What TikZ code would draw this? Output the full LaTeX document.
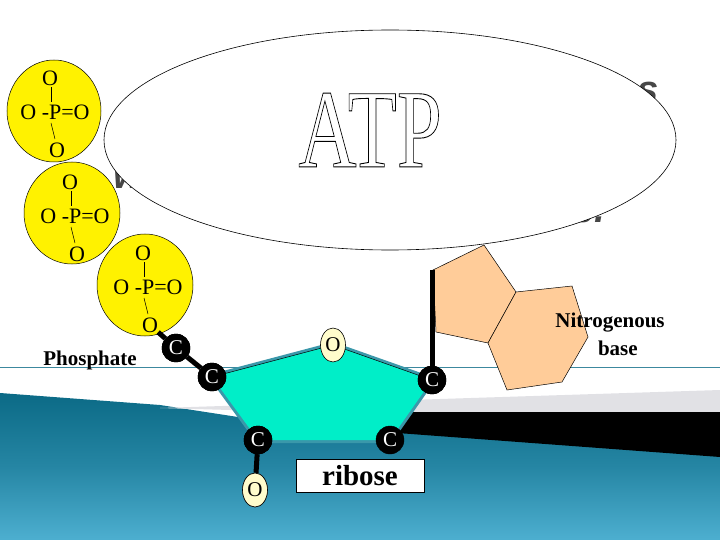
\documentclass[tikz,border=0pt]{standalone}
\usepackage{fontspec}
\setmainfont{Liberation Serif}
\newfontfamily\sansb{Liberation Sans}
\usetikzlibrary{shapes.geometric}
\definecolor{seadark}{HTML}{0B6A86}
\definecolor{sealight}{HTML}{4DAFD0}
\definecolor{ribcyan}{HTML}{00EEC8}
\definecolor{ribedge}{HTML}{3A98AA}
\definecolor{peachc}{HTML}{FFCC99}
\begin{document}
\begin{tikzpicture}[x=1pt,y=-1pt,
  yel/.style={draw=black,fill=yellow,line width=0.5pt},
  txt/.style={font=\fontsize{22}{22}\selectfont,inner sep=0pt},
  cnode/.style={circle,fill=black,draw=black,minimum size=28pt,inner sep=0pt,text=white,font=\fontsize{21}{21}\selectfont},
  onode/.style={ellipse,fill=yellow!20!white,draw=black,line width=0.6pt,minimum width=25pt,minimum height=34pt,inner sep=0pt,font=\fontsize{21}{21}\selectfont},
  bond/.style={line width=5pt,black},
  peach/.style={fill=peachc,draw=black,line width=0.5pt},
  ghost/.style={text=black!72,font=\sansb\bfseries\itshape\fontsize{38}{38}\selectfont,inner sep=0pt}]
\useasboundingbox (0,0) rectangle (720,540);
% background
\shade[top color=seadark, bottom color=sealight, middle color=seadark!60!sealight] (0,393)--(160,405)--(290,425)--(720,455)--(720,540)--(0,540)--cycle;
\fill[blue!8!gray!22] (160,408)--(720,390)--(720,412)--(300,412)--cycle;
\fill[black] (300,412)--(720,412)--(720,457)--(290,425)--cycle;
\draw[seadark!80,line width=0.6pt] (0,367)--(720,367);
% ghost text fragments
\node[ghost] (g1) at (648,92) {s};
\node[ghost] (g2) at (128,178) {w};
\node[ghost] (g3) at (578,212) {ue.};
% ATP ellipse
\node[ellipse,draw=black,fill=white,line width=0.6pt,minimum width=572pt,minimum height=220pt] (atp) at (390,140) {};
\node[inner sep=0pt] (atptxt) at (370,130) {\special{pdf:literal direct 1 Tr 0.5 w}\scalebox{1.3}[1.8]{\fontsize{62}{62}\selectfont ATP}\special{pdf:literal direct 0 Tr}};
% base
\draw[peach] (433,270)--(484,245)--(516,292)--(488,343)--(436,332)--cycle;
\draw[peach] (516,292)--(572,286)--(588,337)--(562,382)--(507,390)--(488,343)--cycle;
\node[font=\bfseries\fontsize{21}{28}\selectfont,align=center,inner sep=0pt] (nb) at (610,334) {Nitrogenous\\ \ \ \ base};
% ribose pentagon
\coordinate (p1) at (212,377); \coordinate (p2) at (333,345); \coordinate (p3) at (432,380);
\coordinate (p4) at (390,440); \coordinate (p5) at (258,440);
\draw[fill=ribcyan,draw=ribedge,line width=6pt,line join=round] (p1)--(p2)--(p3)--(p4)--(p5)--cycle;
\fill[ribcyan] (p1)--(p2)--(p3)--(p4)--(p5)--cycle;
\draw[black,line width=0.5pt] (p1)--(p2)--(p3);
% phosphates
\draw[yel] (54,111) ellipse (47 and 51);
\draw[yel] (72,213) ellipse (48 and 51);
\draw[yel] (145,285) ellipse (48 and 51);
\foreach \i/\cx/\cy in {a/50/78, b/70/182, c/143/253}{
  \node[txt] (\i t) at (\cx,\cy) {O};
  \node[txt] (\i m) at (\cx+5,\cy+34) {O -P=O};
  \node[txt] (\i b) at (\cx+7,\cy+72) {O};
  \draw[line width=0.5pt] (\cx+1,\cy+9)--(\cx+1,\cy+24);
  \draw[line width=0.5pt] (\cx+1,\cy+45)--(\cx+5,\cy+61);
}
% atoms
\node[cnode] (c1) at (176,348) {C};
\node[cnode] (c2) at (212,377) {C};
\node[cnode] (c3) at (432,380) {C};
\node[cnode] (c4) at (390,440) {C};
\node[cnode] (c5) at (258,440) {C};
\node[onode] (o1) at (333,345) {O};
\node[onode] (o2) at (255,490) {O};
\coordinate (top) at (432,270);
\draw[bond] (cb) -- (c1);
\draw[bond] (c1) -- (c2);
\draw[bond] (c5) -- (o2);
\draw[bond] (c3) -- (top);
\node[cnode] at (c1) {C};
\node[cnode] at (c2) {C};
\node[cnode] at (c5) {C};
\node[cnode] at (c3) {C};
\node[onode] at (o2) {O};
\node[draw=black,fill=white,line width=0.6pt,minimum width=128pt,minimum height=33pt,inner sep=0pt,font=\bfseries\fontsize{29}{29}\selectfont] (rib) at (360,476) {ribose};
\node[font=\bfseries\fontsize{21}{21}\selectfont,inner sep=0pt] (ph) at (90,360) {Phosphate};
\end{tikzpicture}
\end{document}
